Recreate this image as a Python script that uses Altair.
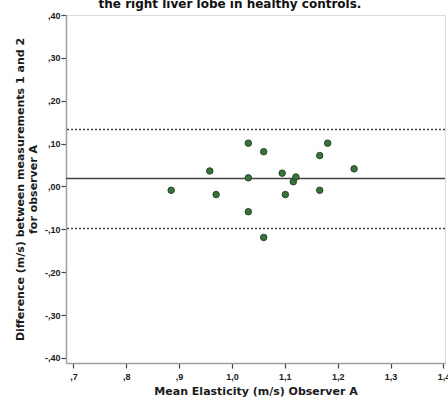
import altair as alt
import pandas as pd

# Bland-Altman data: mean elasticity (x) vs. difference between measurements (y)
mean_elasticity = [0.885, 0.958, 0.970, 1.031, 1.031, 1.031, 1.060, 1.060,
                   1.095, 1.101, 1.116, 1.121, 1.166, 1.166, 1.181, 1.231]
difference = [-0.009, 0.036, -0.019, 0.101, 0.020, -0.059, 0.081, -0.119,
              0.031, -0.019, 0.011, 0.022, 0.072, -0.009, 0.101, 0.041]

# Mean difference and limits of agreement
line_values = [0.0187, 0.133, -0.098]
line_kinds = ["mean", "upper", "lower"]

x_ticks = [0.7, 0.8, 0.9, 1.0, 1.1, 1.2, 1.3, 1.4]
y_ticks = [-0.4, -0.3, -0.2, -0.1, 0.0, 0.1, 0.2, 0.3, 0.4]

title_text = "the right liver lobe in healthy controls."

points_df = pd.DataFrame({"m": mean_elasticity, "d": difference})
lines_df = pd.DataFrame({"v": line_values, "kind": line_kinds})
title_df = pd.DataFrame({"t": [title_text]})

label_font = "Liberation Sans"
title_font = "DejaVu Sans"

x_scale = alt.Scale(domain=[0.686, 1.403], nice=False, zero=False)
y_scale = alt.Scale(domain=[-0.412, 0.40], nice=False, zero=False)

x_axis = alt.Axis(
    values=x_ticks,
    labelExpr="datum.value < 0.95 ? replace(format(datum.value, '.1f'), '0.', ',') : replace(format(datum.value, '.1f'), '.', ',')",
    grid=False, domainColor="#a0a0a0", domainWidth=1.5,
    tickColor="#444444", tickSize=5, tickWidth=1.2,
    labelFont=label_font, labelFontSize=9, labelFontWeight="bold", labelColor="#1a1a1a",
    labelPadding=4,
    title="Mean Elasticity (m/s) Observer A",
    titleFont=title_font, titleFontSize=11, titleFontWeight="bold", titleColor="#1a1a1a",
    titlePadding=4,
)

y_axis = alt.Axis(
    values=y_ticks,
    labelExpr="(datum.value < -0.001 ? '-' : '') + replace(format(abs(datum.value), '.2f'), '0.', ',')",
    grid=False, domainColor="#a0a0a0", domainWidth=1.5,
    tickColor="#444444", tickSize=5, tickWidth=1.2,
    labelFont=label_font, labelFontSize=9, labelFontWeight="bold", labelColor="#1a1a1a",
    labelPadding=1,
    title=["Difference (m/s) between measurements 1 and 2", "for observer A"],
    titleFont=title_font, titleFontSize=11, titleFontWeight="bold", titleColor="#1a1a1a",
    titleLineHeight=13, titlePadding=6,
)

points = alt.Chart(points_df).mark_point(
    filled=True, shape="circle", size=42, fill="#3a713c", stroke="#244a26",
    strokeWidth=1, opacity=1,
).encode(
    x=alt.X("m:Q", scale=x_scale, axis=x_axis),
    y=alt.Y("d:Q", scale=y_scale, axis=y_axis),
)

mean_line = alt.Chart(lines_df).transform_filter(
    alt.datum.kind == "mean"
).mark_rule(color="#444444", strokeWidth=1.5).encode(
    y=alt.Y("v:Q", scale=y_scale)
)

limit_lines = alt.Chart(lines_df).transform_filter(
    alt.datum.kind != "mean"
).mark_rule(color="#444444", strokeWidth=1.5, strokeDash=[2, 2]).encode(
    y=alt.Y("v:Q", scale=y_scale)
)

title_mark = alt.Chart(title_df).mark_text(
    font=title_font, fontSize=12, fontWeight="bold", color="#111111",
    align="center", baseline="alphabetic",
).encode(
    x=alt.value(164), y=alt.value(-7), text="t:N"
)

chart = alt.layer(limit_lines, mean_line, points, title_mark).properties(
    width=379, height=348,
    autosize=alt.AutoSizeParams(type="none"),
    padding={"left": 66, "top": 15, "right": 3, "bottom": 37},
).configure_view(stroke=None).configure(background="white")

chart.save("out.html", embed_options={"renderer": "svg", "actions": False})
